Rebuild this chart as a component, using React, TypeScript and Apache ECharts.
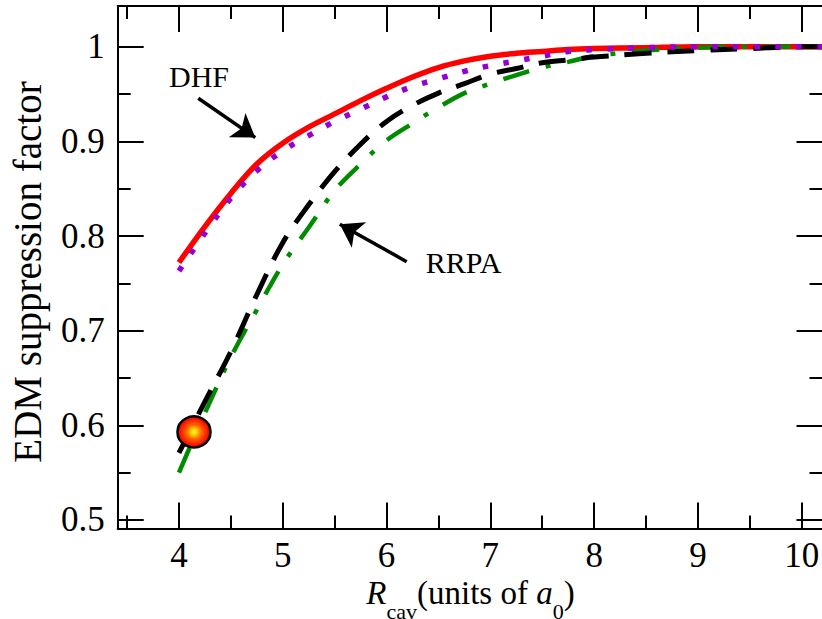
import React, { useEffect, useRef } from "react";
import * as echarts from "echarts";

// R_cav values (units of a0)
const rCav = [4, 4.25, 4.5, 4.75, 5, 5.25, 5.5, 5.75, 6, 6.25, 6.5, 6.75, 7, 7.25, 7.5, 7.75, 8, 8.5, 9, 9.5, 10, 10.2];
// DHF (red solid)
const dhfSolid = [0.772, 0.81, 0.845, 0.876, 0.898, 0.915, 0.929, 0.943, 0.956, 0.968, 0.978, 0.985, 0.99, 0.993, 0.995, 0.997, 0.998, 0.999, 1.0, 1.0, 1.0, 1.0];
// DHF variant (violet dotted)
const dhfDotted = [0.763, 0.803, 0.84, 0.869, 0.89, 0.906, 0.921, 0.934, 0.947, 0.958, 0.966, 0.974, 0.98, 0.985, 0.99, 0.995, 0.997, 0.999, 1.0, 1.0, 1.0, 1.0];
// RRPA (black dashed)
const rrpaDashed = [0.571, 0.625, 0.678, 0.738, 0.793, 0.833, 0.868, 0.897, 0.921, 0.938, 0.951, 0.961, 0.971, 0.977, 0.983, 0.986, 0.989, 0.993, 0.996, 0.998, 1.0, 1.0];
// RRPA variant (green dash-dot)
const rrpaDashDot = [0.55, 0.613, 0.672, 0.722, 0.77, 0.809, 0.848, 0.876, 0.901, 0.919, 0.936, 0.951, 0.961, 0.97, 0.978, 0.984, 0.99, 0.996, 0.999, 1.0, 1.0, 1.0];
// highlighted point
const markerPoint = [4.145, 0.593];
// annotation arrows [from, to] in data coords
const dhfArrow = [[4.186, 0.9455], [4.735, 0.904]];
const rrpaArrow = [[6.194, 0.7729], [5.55, 0.8125]];
const annotationTexts = ["DHF", "RRPA"];

const FONT = "Liberation Serif";

const pairs = (ys: number[]) => rCav.map((x, i) => [x, ys[i]]);

function buildOption(): any {
  const tickCommon = {
    axisLine: { show: true, lineStyle: { color: "#000", width: 2 } },
    axisTick: { show: true, inside: true, length: 26, lineStyle: { color: "#000", width: 2 } },
    minorTick: { show: true, splitNumber: 2, length: 13, lineStyle: { color: "#000", width: 2 } },
    splitLine: { show: false },
    minorSplitLine: { show: false },
  };
  const xBase = { type: "value", min: 3.41, max: 10.2, minInterval: 1, maxInterval: 1, ...tickCommon };
  const yBase = { type: "value", min: 0.491, max: 1.043, minInterval: 0.1, maxInterval: 0.1, ...tickCommon };
  const lineSeries = (name: string, ys: number[], color: string, width: number, type: any, extra: any = {}) => ({
    name,
    type: "line",
    data: pairs(ys),
    showSymbol: false,
    symbol: "none",
    smooth: 0.35,
    lineStyle: { color, width, type, cap: "butt", join: "round" },
    silent: true,
    ...extra,
  });
  return {
    animation: false,
    backgroundColor: "#fff",
    grid: { left: 117.7, top: 6, width: 704.8, height: 522.5, containLabel: false },
    xAxis: [
      {
        ...xBase,
        position: "bottom",
        axisLabel: {
          show: true, margin: 9, color: "#000", fontFamily: FONT, fontSize: 35,
          showMinLabel: false, showMaxLabel: false,
        },
      },
      { ...xBase, position: "top", axisLabel: { show: false } },
    ],
    yAxis: [
      {
        ...yBase,
        position: "left",
        axisLabel: {
          show: true, margin: 13, color: "#000", fontFamily: FONT, fontSize: 35,
          showMinLabel: false, showMaxLabel: false,
        },
      },
      { ...yBase, position: "right", axisLabel: { show: false } },
    ],
    series: [
      lineSeries("DHF", dhfSolid, "#ff0000", 5.5, "solid", {
        markLine: {
          silent: true,
          symbol: ["none", "arrow"],
          symbolSize: 22,
          label: { show: false },
          lineStyle: { color: "#000", width: 3.5, type: "solid" },
          emphasis: { disabled: true },
          data: [
            [{ coord: dhfArrow[0] }, { coord: dhfArrow[1] }],
            [{ coord: rrpaArrow[0] }, { coord: rrpaArrow[1] }],
          ],
        },
      }),
      lineSeries("RRPA-dashdot", rrpaDashDot, "#008b00", 4.5, [27, 17, 5, 17]),
      lineSeries("RRPA", rrpaDashed, "#000000", 5, [27, 16]),
      lineSeries("DHF-dotted", dhfDotted, "#9400d3", 5.5, [5.5, 15.5]),
      {
        type: "scatter",
        data: [markerPoint],
        symbol: "circle",
        symbolSize: [33, 31],
        silent: true,
        z: 10,
        itemStyle: {
          color: new echarts.graphic.RadialGradient(0.5, 0.5, 0.5, [
            { offset: 0, color: "#ffff40" },
            { offset: 0.18, color: "#ffd000" },
            { offset: 0.5, color: "#ff5a00" },
            { offset: 0.8, color: "#ff1a00" },
            { offset: 1, color: "#dd0000" },
          ]),
          borderColor: "#000",
          borderWidth: 2.5,
          opacity: 1,
        },
      },
    ],
    graphic: [
      {
        type: "text",
        x: 199, y: 76.7,
        style: { text: annotationTexts[0], fontFamily: FONT, fontSize: 30, fill: "#000", align: "center", verticalAlign: "middle" },
        silent: true,
      },
      {
        type: "text",
        x: 463.5, y: 262.5,
        style: { text: annotationTexts[1], fontFamily: FONT, fontSize: 30, fill: "#000", align: "center", verticalAlign: "middle" },
        silent: true,
      },
      {
        type: "text",
        x: 27.5, y: 272,
        rotation: Math.PI / 2,
        style: { text: "EDM suppression factor", fontFamily: FONT, fontSize: 39, fill: "#000", align: "center", verticalAlign: "middle" },
        silent: true,
      },
      {
        type: "text",
        x: 470.5, y: 576,
        silent: true,
        style: {
          text: "{i|R}{s|cav}{n|(units of }{i|a}{s|0}{n|)}",
          align: "center",
          verticalAlign: "top",
          fill: "#000",
          rich: {
            i: { fontFamily: FONT, fontStyle: "italic", fontSize: 33, lineHeight: 46, verticalAlign: "top", fill: "#000" },
            n: { fontFamily: FONT, fontSize: 33, lineHeight: 46, verticalAlign: "top", fill: "#000" },
            s: { fontFamily: FONT, fontSize: 22, lineHeight: 46, verticalAlign: "bottom", fill: "#000" },
          },
        },
      },
    ],
  };
}

export default function App() {
  const ref = useRef<HTMLDivElement>(null);
  useEffect(() => {
    document.body.style.margin = "0";
    if (!ref.current) return;
    const chart = echarts.init(ref.current, undefined, { renderer: "svg" });
    chart.setOption(buildOption());
    return () => chart.dispose();
  }, []);
  return (
    <div style={{ width: 822, height: 619, overflow: "hidden", position: "relative", background: "#fff" }}>
      <div ref={ref} style={{ width: 830, height: 619 }} />
    </div>
  );
}
